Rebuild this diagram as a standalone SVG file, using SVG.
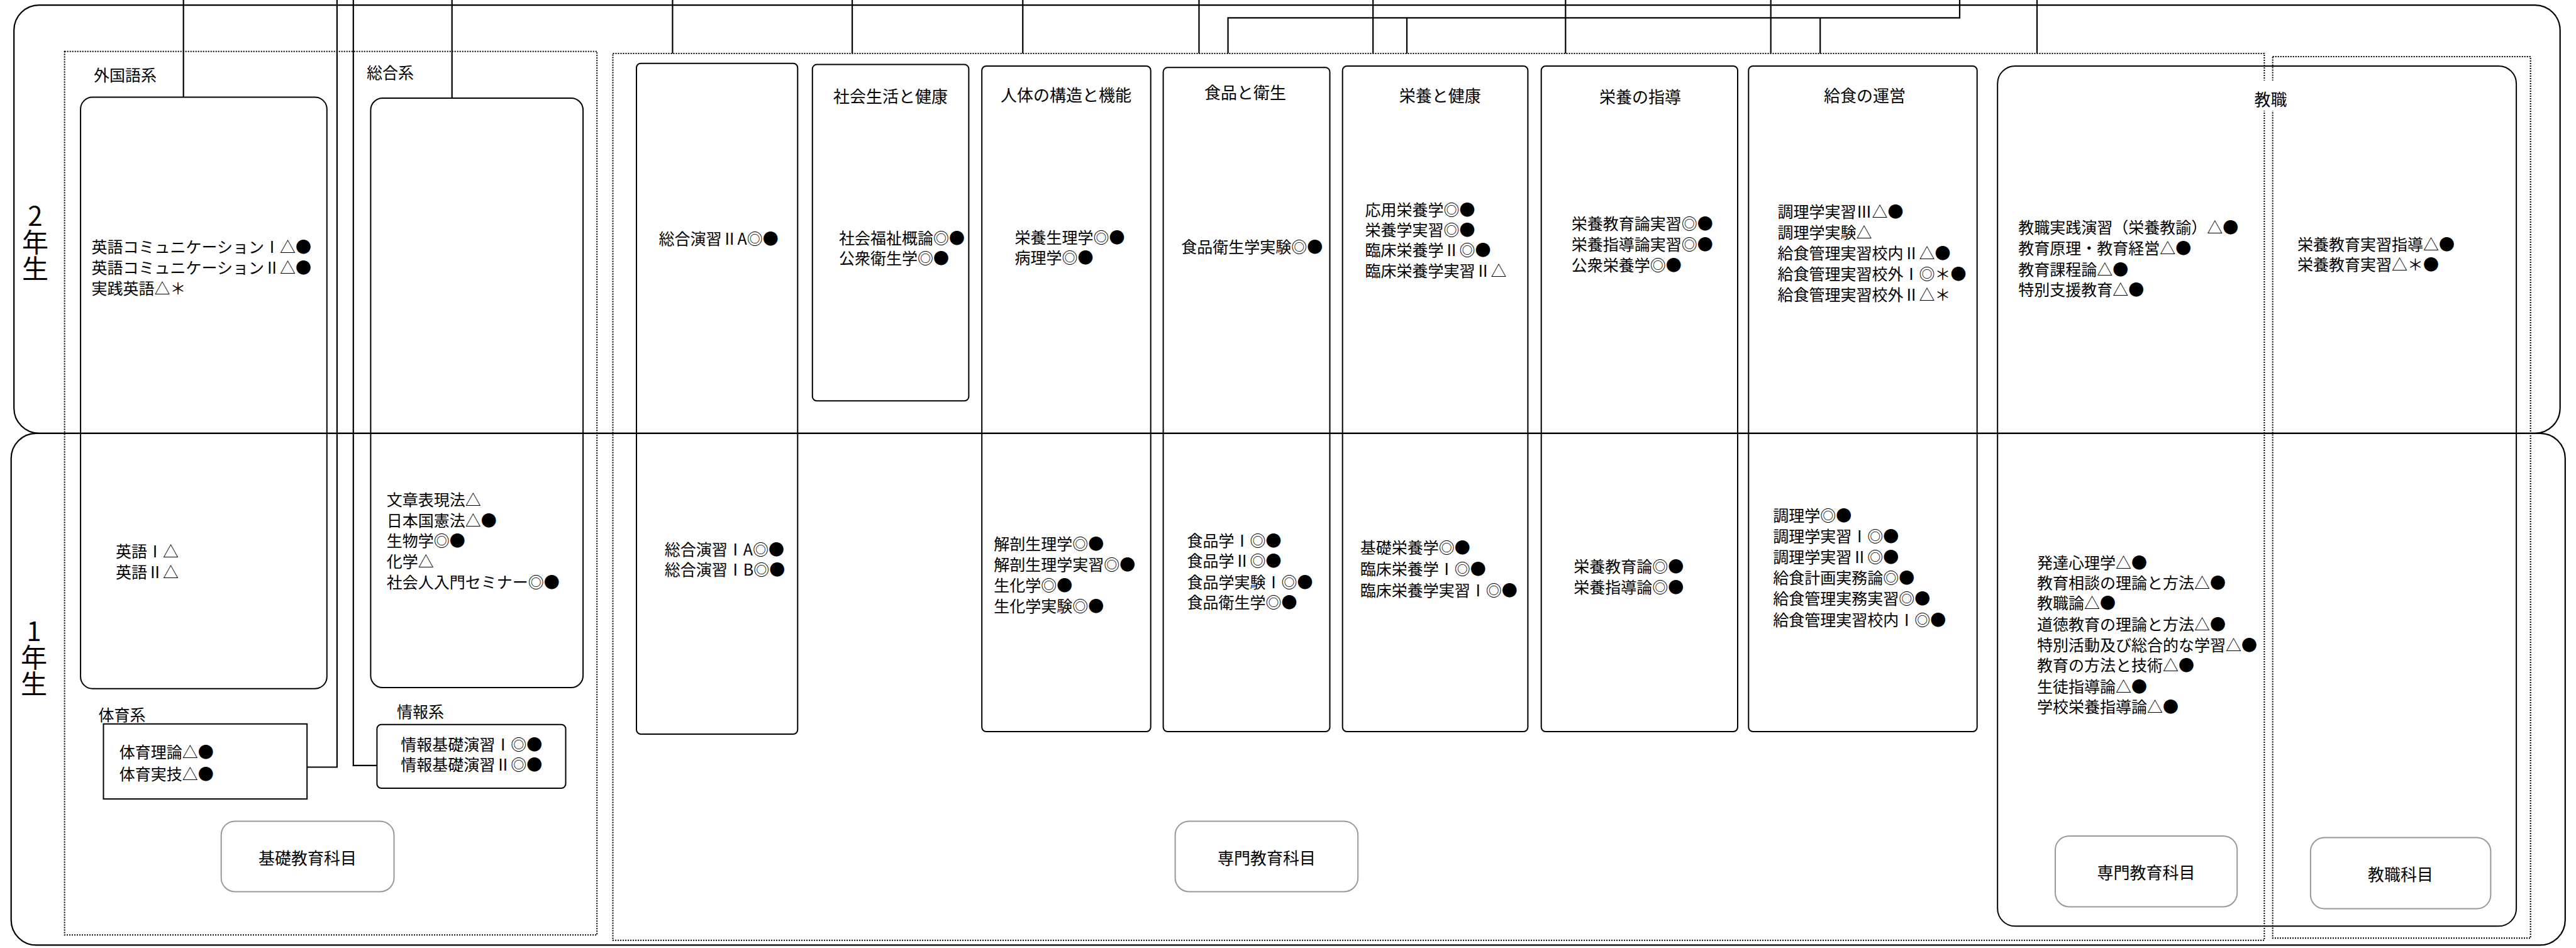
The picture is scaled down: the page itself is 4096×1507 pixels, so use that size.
<svg xmlns="http://www.w3.org/2000/svg" width="4096" height="1507" viewBox="0 0 4096 1507">
<style>
.t{font-family:"Noto Sans CJK JP","Noto Sans",sans-serif;font-size:25px;fill:#000;dominant-baseline:central}
.h{font-size:26px;text-anchor:middle}
.m{font-size:26px}
.yr{font-size:42px;writing-mode:vertical-rl;text-orientation:upright}
.node{fill:none;stroke:#000;stroke-width:2}
.frame{fill:none;stroke:#000;stroke-width:2.2}
.dot{fill:none;stroke:#000;stroke-width:2;stroke-dasharray:2 2}
.lbl{fill:#fff;stroke:#999;stroke-width:2}
.c{fill:none;stroke:#000;stroke-width:2.2}
</style>
<rect width="4096" height="1507" fill="#fff"/>

<g id="year2">
<rect class="frame" x="22.2" y="8.1" width="4048.5" height="680.7" rx="40"/>
<text class="t yr" x="56" y="322">2年生</text>
</g>
<g id="year1">
<rect class="frame" x="17.7" y="688.8" width="4061.1" height="813.6" rx="40"/>
<text class="t yr" x="54" y="982">1年生</text>
</g>

<g id="kiso-group">
<rect class="dot" x="102.7" y="81.8" width="846.5" height="1404.4"/>
<rect class="lbl" x="351.7" y="1305.4" width="274.8" height="112.1" rx="22"/>
<text class="t m" x="489" y="1362" text-anchor="middle">基礎教育科目</text>
</g>
<g id="senmon-group">
<rect class="dot" x="974.5" y="85" width="2625.9" height="1409.8"/>
<rect class="lbl" x="1868.6" y="1305.4" width="290.6" height="112.1" rx="22"/>
<text class="t m" x="2013.9" y="1362" text-anchor="middle">専門教育科目</text>
</g>
<g id="kyoshoku-group">
<rect class="dot" x="3613.7" y="89.9" width="410" height="1401.3"/>
</g>

<g id="connectors">
<path class="c" d="M291.7 0V154.6"/>
<path class="c" d="M535.9 0V1219.5H488.2"/>
<path class="c" d="M561.8 0V1216.8H599.4"/>
<path class="c" d="M718.7 0V156"/>
<path class="c" d="M1069.4 0V85M1355.1 0V85M1626.3 0V85M1906.5 0V85M2183.2 0V85M2489.3 0V85M2815.7 0V85M3239 0V85"/>
<path class="c" d="M3116 0V28.4H1952.6V85M2237 28.4V85M2894.2 28.4V85"/>
</g>

<g id="gaikokugo">
<text class="t" x="149" y="118.4">外国語系</text>
<rect class="node" x="128.1" y="154.6" width="391.7" height="940.1" rx="19"/>
<text class="t"><tspan x="145.5" y="391">英語コミュニケーションⅠ△●</tspan><tspan x="145.5" y="424">英語コミュニケーションⅡ△●</tspan><tspan x="145.5" y="457">実践英語△＊</tspan></text>
<text class="t"><tspan x="183.9" y="875">英語Ⅰ△</tspan><tspan x="183.9" y="908">英語Ⅱ△</tspan></text>
</g>

<g id="sogo">
<text class="t" x="583" y="113.5">総合系</text>
<rect class="node" x="589.4" y="156" width="337.7" height="937" rx="19"/>
<text class="t"><tspan x="614.7" y="793">文章表現法△</tspan><tspan x="614.7" y="826">日本国憲法△●</tspan><tspan x="614.7" y="858">生物学◎●</tspan><tspan x="614.7" y="891">化学△</tspan><tspan x="614.7" y="924">社会人入門セミナー◎●</tspan></text>
</g>

<g id="taiiku">
<text class="t" x="156.4" y="1134.5">体育系</text>
<rect class="node" x="164.5" y="1150.8" width="323.7" height="119.3"/>
<text class="t"><tspan x="189.8" y="1194">体育理論△●</tspan><tspan x="189.8" y="1228.5">体育実技△●</tspan></text>
</g>

<g id="joho">
<text class="t" x="631" y="1130">情報系</text>
<rect class="node" x="599.4" y="1151.7" width="300.1" height="101.3" rx="7"/>
<text class="t"><tspan x="637.3" y="1182">情報基礎演習Ⅰ◎●</tspan><tspan x="637.3" y="1214.4">情報基礎演習Ⅱ◎●</tspan></text>
</g>

<g id="sogoenshu">
<rect class="node" x="1012" y="100.7" width="256.3" height="1066.3" rx="7"/>
<text class="t" x="1047.5" y="378">総合演習ⅡA◎●</text>
<text class="t"><tspan x="1056.8" y="871.5">総合演習ⅠA◎●</tspan><tspan x="1056.8" y="904">総合演習ⅠB◎●</tspan></text>
</g>

<g id="shakai">
<rect class="node" x="1291.8" y="102.6" width="248.6" height="534.7" rx="7"/>
<text class="t h" x="1416" y="151.9">社会生活と健康</text>
<text class="t"><tspan x="1334.1" y="377">社会福祉概論◎●</tspan><tspan x="1334.1" y="409">公衆衛生学◎●</tspan></text>
</g>

<g id="jintai">
<rect class="node" x="1561.2" y="104.9" width="268.5" height="1058.2" rx="7"/>
<text class="t h" x="1695" y="149.2">人体の構造と機能</text>
<text class="t"><tspan x="1613.6" y="376">栄養生理学◎●</tspan><tspan x="1613.6" y="408">病理学◎●</tspan></text>
<text class="t"><tspan x="1580.2" y="863">解剖生理学◎●</tspan><tspan x="1580.2" y="896">解剖生理学実習◎●</tspan><tspan x="1580.2" y="928.5">生化学◎●</tspan><tspan x="1580.2" y="961.6">生化学実験◎●</tspan></text>
</g>

<g id="shokuhin">
<rect class="node" x="1849.6" y="107.3" width="264.9" height="1055.8" rx="7"/>
<text class="t h" x="1980" y="145.2">食品と衛生</text>
<text class="t" x="1878.2" y="391.4">食品衛生学実験◎●</text>
<text class="t"><tspan x="1887.6" y="858">食品学Ⅰ◎●</tspan><tspan x="1887.6" y="890.4">食品学Ⅱ◎●</tspan><tspan x="1887.6" y="924">食品学実験Ⅰ◎●</tspan><tspan x="1887.6" y="956.4">食品衛生学◎●</tspan></text>
</g>

<g id="eiyo-kenko">
<rect class="node" x="2134.7" y="104.9" width="294.7" height="1058.2" rx="7"/>
<text class="t h" x="2289.8" y="150">栄養と健康</text>
<text class="t"><tspan x="2170.5" y="332">応用栄養学◎●</tspan><tspan x="2170.5" y="364">栄養学実習◎●</tspan><tspan x="2170.5" y="396">臨床栄養学Ⅱ◎●</tspan><tspan x="2170.5" y="429.4">臨床栄養学実習Ⅱ△</tspan></text>
<text class="t"><tspan x="2162.8" y="869.3">基礎栄養学◎●</tspan><tspan x="2162.8" y="902.7">臨床栄養学Ⅰ◎●</tspan><tspan x="2162.8" y="936.5">臨床栄養学実習Ⅰ◎●</tspan></text>
</g>

<g id="eiyo-shido">
<rect class="node" x="2450.7" y="104.9" width="312.3" height="1058.2" rx="7"/>
<text class="t h" x="2608" y="152.2">栄養の指導</text>
<text class="t"><tspan x="2498.7" y="354.4">栄養教育論実習◎●</tspan><tspan x="2498.7" y="387">栄養指導論実習◎●</tspan><tspan x="2498.7" y="419.5">公衆栄養学◎●</tspan></text>
<text class="t"><tspan x="2502.3" y="898.6">栄養教育論◎●</tspan><tspan x="2502.3" y="931.7">栄養指導論◎●</tspan></text>
</g>

<g id="kyushoku">
<rect class="node" x="2780.3" y="104.9" width="363.4" height="1058.2" rx="7"/>
<text class="t h" x="2965" y="150">給食の運営</text>
<text class="t"><tspan x="2826.4" y="334.5">調理学実習Ⅲ△●</tspan><tspan x="2826.4" y="367.9">調理学実験△</tspan><tspan x="2826.4" y="400.9">給食管理実習校内Ⅱ△●</tspan><tspan x="2826.4" y="433.9">給食管理実習校外Ⅰ◎＊●</tspan><tspan x="2826.4" y="467.1">給食管理実習校外Ⅱ△＊</tspan></text>
<text class="t"><tspan x="2819.2" y="818">調理学◎●</tspan><tspan x="2819.2" y="850.7">調理学実習Ⅰ◎●</tspan><tspan x="2819.2" y="883.7">調理学実習Ⅱ◎●</tspan><tspan x="2819.2" y="916.7">給食計画実務論◎●</tspan><tspan x="2819.2" y="950.1">給食管理実務実習◎●</tspan><tspan x="2819.2" y="983.6">給食管理実習校内Ⅰ◎●</tspan></text>
</g>

<g id="kyoshoku">
<rect class="node" x="3176.2" y="104.9" width="824.9" height="1367.4" rx="28"/>
<rect x="3590" y="128" width="42" height="48" fill="#fff"/>
<text class="t h" x="3610.6" y="156">教職</text>
<text class="t"><tspan x="3209.2" y="360.2">教職実践演習（栄養教諭）△●</tspan><tspan x="3209.2" y="393.2">教育原理・教育経営△●</tspan><tspan x="3209.2" y="426.7">教育課程論△●</tspan><tspan x="3209.2" y="459.2">特別支援教育△●</tspan></text>
<text class="t"><tspan x="3239" y="892.8">発達心理学△●</tspan><tspan x="3239" y="925.2">教育相談の理論と方法△●</tspan><tspan x="3239" y="957.3">教職論△●</tspan><tspan x="3239" y="990.8">道徳教育の理論と方法△●</tspan><tspan x="3239" y="1024">特別活動及び総合的な学習△●</tspan><tspan x="3239" y="1056.3">教育の方法と技術△●</tspan><tspan x="3239" y="1089.8">生徒指導論△●</tspan><tspan x="3239" y="1122.2">学校栄養指導論△●</tspan></text>
<text class="t"><tspan x="3653" y="386.9">栄養教育実習指導△●</tspan><tspan x="3653" y="418.9">栄養教育実習△＊●</tspan></text>
<rect class="lbl" x="3268" y="1328.9" width="289.2" height="112.5" rx="22"/>
<text class="t m" x="3412.6" y="1385" text-anchor="middle">専門教育科目</text>
<rect class="lbl" x="3673.9" y="1331.6" width="286.5" height="113" rx="22"/>
<text class="t m" x="3817" y="1388" text-anchor="middle">教職科目</text>
</g>
</svg>
